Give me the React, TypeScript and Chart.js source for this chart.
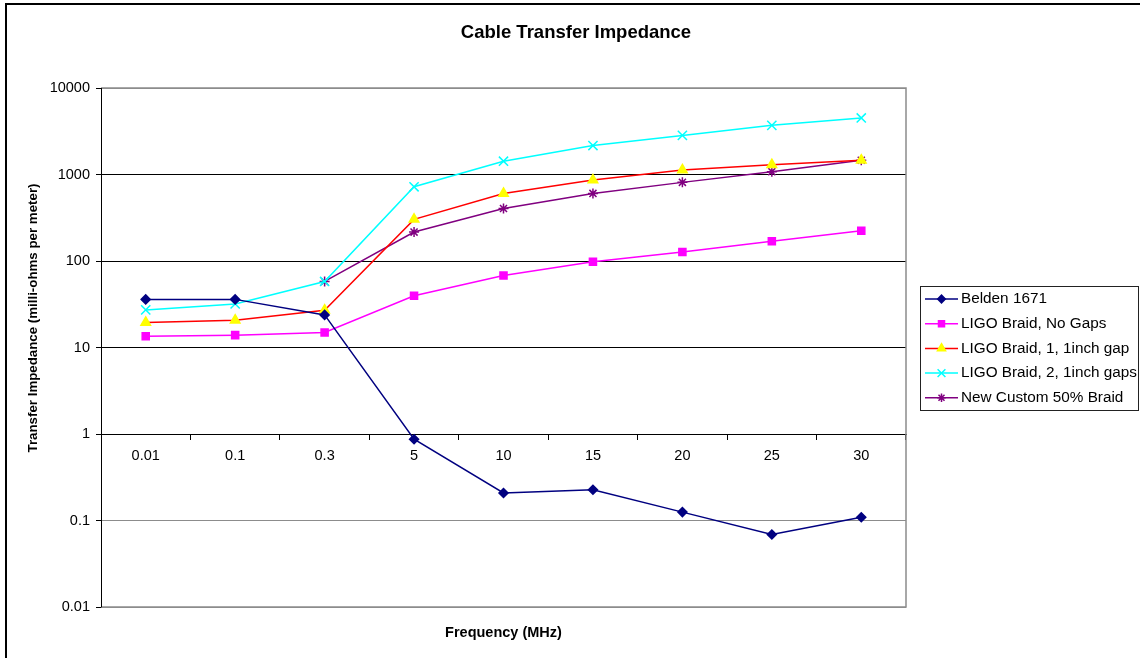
import React, { useEffect, useRef } from "react";
import { Chart, registerables } from "chart.js";
import { drawPoint } from "chart.js/helpers";

Chart.register(...registerables);

const categories = ["0.01", "0.1", "0.3", "5", "10", "15", "20", "25", "30"];
const belden = [36, 36, 23.8, 0.87, 0.208, 0.227, 0.125, 0.069, 0.109];
const noGaps = [13.5, 13.9, 14.9, 39.6, 68, 98, 127, 169, 224];
const oneGap = [19.5, 20.7, 27, 303, 604, 863, 1128, 1300, 1463];
const twoGaps = [27.2, 31.9, 58, 721, 1425, 2162, 2831, 3700, 4500];
const custom = [null, null, 58, 216, 405, 604, 811, 1078, 1463];
const yTicks = [0.01, 0.1, 1, 10, 100, 1000, 10000];
const seriesNames = [
  "Belden 1671",
  "LIGO Braid, No Gaps",
  "LIGO Braid, 1, 1inch gap",
  "LIGO Braid, 2, 1inch gaps",
  "New Custom 50% Braid",
];
const titleText = "Cable Transfer Impedance";
const xTitle = "Frequency (MHz)";
const yTitle = "Transfer Impedance (milli-ohms per meter)";

const FONT = "'Liberation Sans', Arial, Helvetica, sans-serif";

const decorPlugin = {
  id: "decor",
  beforeDatasetsDraw(chart: any) {
    const { ctx, chartArea } = chart;
    ctx.save();
    ctx.strokeStyle = "#8c8c8c";
    ctx.lineWidth = 1.5;
    ctx.beginPath();
    ctx.moveTo(chartArea.left, chartArea.top);
    ctx.lineTo(chartArea.right, chartArea.top);
    ctx.lineTo(chartArea.right, chartArea.bottom);
    ctx.lineTo(chartArea.left, chartArea.bottom);
    ctx.stroke();
    ctx.strokeStyle = "#000";
    ctx.lineWidth = 1;
    ctx.beginPath();
    ctx.moveTo(chartArea.left + 0.5, chartArea.top);
    ctx.lineTo(chartArea.left + 0.5, chartArea.bottom);
    ctx.stroke();
    ctx.restore();
  },
  afterDraw(chart: any) {
    const { ctx, chartArea } = chart;
    ctx.save();
    // outer border
    ctx.strokeStyle = "#000";
    ctx.lineWidth = 2;
    ctx.beginPath();
    ctx.moveTo(6, 658);
    ctx.lineTo(6, 4);
    ctx.lineTo(1140, 4);
    ctx.stroke();

    // title
    ctx.fillStyle = "#000";
    ctx.font = `bold 18.5px ${FONT}`;
    ctx.textAlign = "center";
    ctx.textBaseline = "middle";
    ctx.fillText(titleText, 576, 33);

    // x title
    ctx.font = `bold 14.5px ${FONT}`;
    ctx.fillText(xTitle, (chartArea.left + chartArea.right) / 2, 633);

    // y title
    ctx.save();
    ctx.translate(33, 318);
    ctx.rotate(-Math.PI / 2);
    ctx.font = `bold 13.3px ${FONT}`;
    ctx.fillText(yTitle, 0, 0);
    ctx.restore();

    // legend
    const lx = 920, ly = 286, lw = 218, lh = 124;
    ctx.fillStyle = "#fff";
    ctx.fillRect(lx, ly, lw, lh);
    ctx.strokeStyle = "#222";
    ctx.lineWidth = 1;
    ctx.strokeRect(lx + 0.5, ly + 0.5, lw, lh);
    const rowY0 = 299, rowStep = 24.7;
    chart.data.datasets.forEach((ds: any, i: number) => {
      const y = rowY0 + i * rowStep;
      ctx.strokeStyle = ds.borderColor;
      ctx.lineWidth = ds.borderWidth;
      ctx.beginPath();
      ctx.moveTo(925, y);
      ctx.lineTo(958, y);
      ctx.stroke();
      ctx.fillStyle = ds.pointBackgroundColor;
      ctx.strokeStyle = ds.pointBorderColor;
      ctx.lineWidth = ds.pointBorderWidth;
      drawPoint(ctx, { pointStyle: ds.pointStyle, radius: ds.pointRadius * 0.85, borderWidth: ds.pointBorderWidth, rotation: 0 }, 941.5, y);
      ctx.fillStyle = "#000";
      ctx.font = `15.3px ${FONT}`;
      ctx.textAlign = "left";
      ctx.textBaseline = "middle";
      ctx.fillText(ds.label, 961, y);
    });
    ctx.restore();
  },
};

function mk(label: string, data: (number | null)[], line: string, fill: string, border: string, style: string, r: number) {
  return {
    label,
    data,
    borderColor: line,
    borderWidth: 1.5,
    pointStyle: style,
    pointRadius: r,
    pointHoverRadius: r,
    pointBackgroundColor: fill,
    pointBorderColor: border,
    pointBorderWidth: 1.5,
    tension: 0,
    spanGaps: false,
  };
}

export default function App() {
  const ref = useRef<HTMLCanvasElement | null>(null);
  useEffect(() => {
    if (!ref.current) return;
    const chart = new Chart(ref.current, {
      type: "line",
      data: {
        labels: categories,
        datasets: [
          mk(seriesNames[0], belden, "#000080", "#000080", "#000080", "rectRot", 4.5),
          mk(seriesNames[1], noGaps, "#FF00FF", "#FF00FF", "#FF00FF", "rect", 5),
          mk(seriesNames[2], oneGap, "#FF0000", "#FFFF00", "#FFFF00", "triangle", 5.5),
          mk(seriesNames[3], twoGaps, "#00FFFF", "#00FFFF", "#00FFFF", "crossRot", 6.5),
          mk(seriesNames[4], custom, "#800080", "#800080", "#800080", "star", 5),
        ] as any,
      },
      options: {
        animation: false,
        responsive: false,
        devicePixelRatio: 1,
        layout: { padding: { left: 0, top: 88, right: 234, bottom: 51 } },
        plugins: {
          legend: { display: false },
          title: { display: false },
          tooltip: { enabled: false },
        },
        scales: {
          x: {
            type: "category",
            position: { y: 1 } as any,
            offset: true,
            grid: {
              offset: true,
              drawOnChartArea: false,
              drawTicks: true,
              tickLength: 5,
              color: "#000",
            },
            border: { color: "#000", width: 1 },
            ticks: {
              color: "#000",
              padding: 8,
              font: { family: FONT, size: 14.5 },
              maxRotation: 0,
              autoSkip: false,
            },
          },
          y: {
            type: "logarithmic",
            position: "left",
            min: 0.01,
            max: 10000,
            afterBuildTicks: (scale: any) => {
              scale.ticks = yTicks.map((v) => ({ value: v, major: true }));
            },
            afterFit: (scale: any) => {
              scale.width = 101;
            },
            grid: {
              color: (ctx: any) => {
                const v = ctx.tick ? ctx.tick.value : 0;
                return v >= 1 && v <= 1000 ? "#000" : "#8c8c8c";
              },
              tickColor: "#000",
              tickLength: 5,
              drawTicks: true,
            },
            border: { color: "#000", width: 1 },
            ticks: {
              color: "#000",
              padding: 6,
              font: { family: FONT, size: 14.5 },
              callback: (v: any) => {
                const n = Number(v);
                return n >= 1 ? String(Math.round(n)) : String(n);
              },
            },
          },
        },
      },
      plugins: [decorPlugin],
    });
    return () => chart.destroy();
  }, []);
  return (
    <div style={{ position: "absolute", left: 0, top: 0, width: 1140, height: 658, background: "#fff" }}>
      <canvas ref={ref} width={1140} height={658} style={{ display: "block", width: 1140, height: 658 }} />
    </div>
  );
}
